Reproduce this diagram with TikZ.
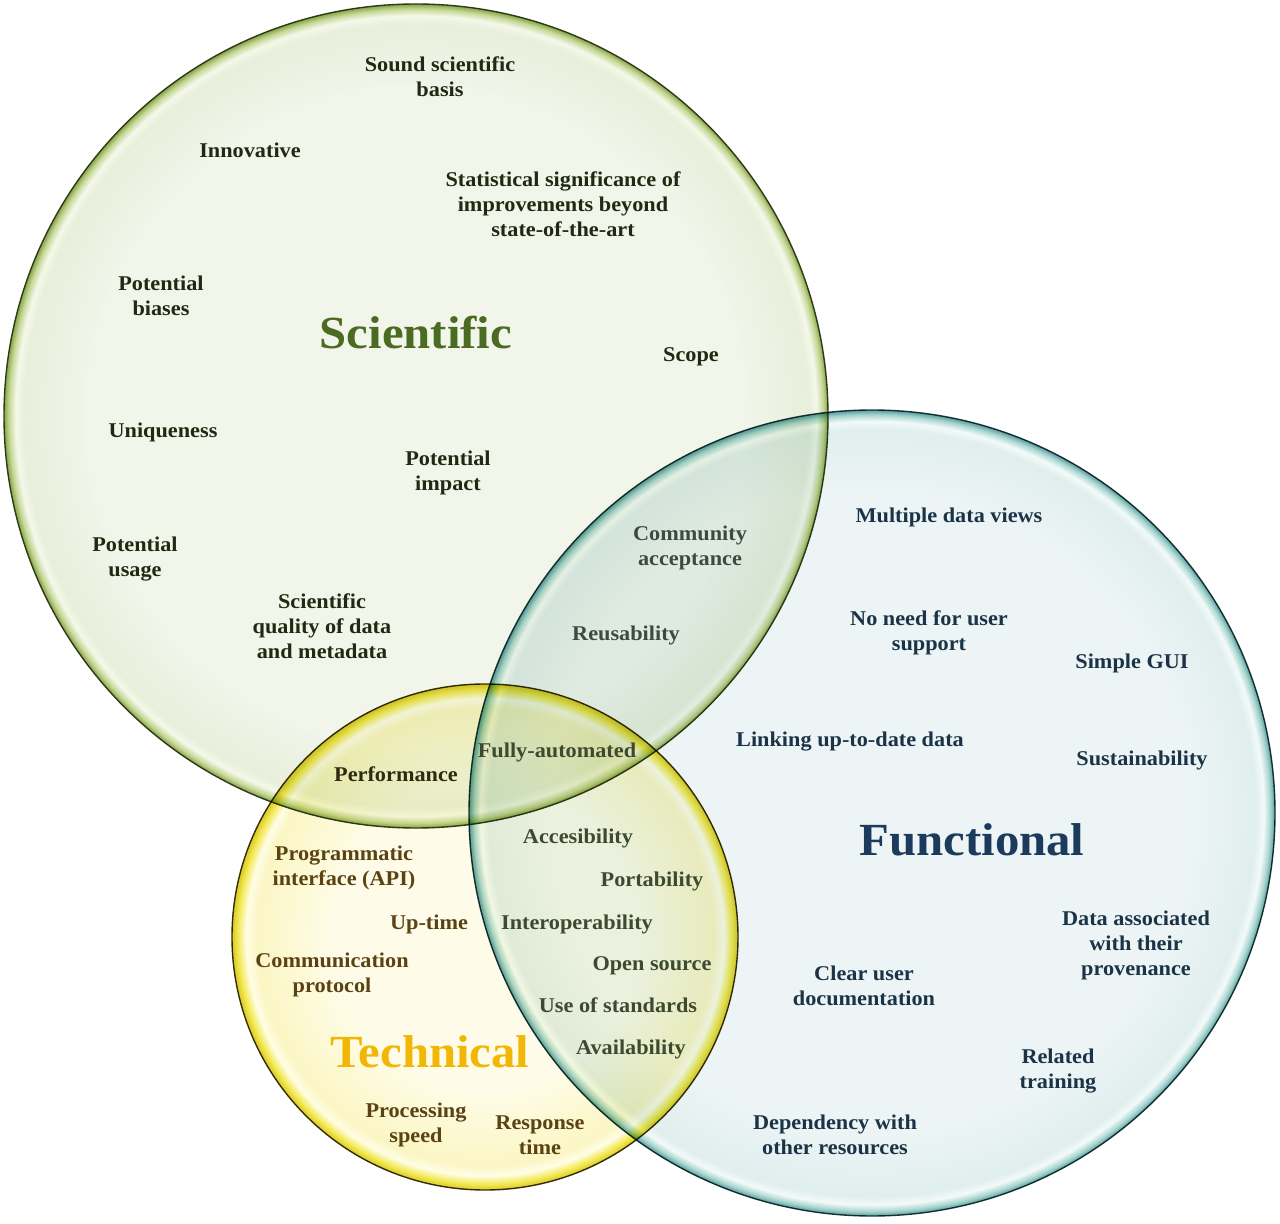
\documentclass[tikz,border=0pt]{standalone}
\usepackage{fontspec}
\setmainfont[FakeStretch=1.06]{Liberation Serif}
\definecolor{sciin}{HTML}{F1F5EA}
\definecolor{scimid}{HTML}{E8EFDA}
\definecolor{scihl}{HTML}{F4F8EA}
\definecolor{sciband}{HTML}{C6D896}
\definecolor{sciedge}{HTML}{8EA852}
\definecolor{sciborder}{HTML}{2E3A14}
\definecolor{funin}{HTML}{ECF4F5}
\definecolor{funmid}{HTML}{E0EEEE}
\definecolor{funhl}{HTML}{F3FAF9}
\definecolor{funband}{HTML}{A9D6D1}
\definecolor{funedge}{HTML}{62A2A2}
\definecolor{funborder}{HTML}{1D3B3F}
\definecolor{tecin}{HTML}{FEFCE8}
\definecolor{tecmid}{HTML}{FBF6C4}
\definecolor{techl}{HTML}{FFFDE6}
\definecolor{tecband}{HTML}{F3EA56}
\definecolor{tecedge}{HTML}{DCCC28}
\definecolor{tecborder}{HTML}{3A3210}
\definecolor{scitext}{HTML}{1E2A12}
\definecolor{scititle}{HTML}{4B6A22}
\definecolor{funtext}{HTML}{1B3346}
\definecolor{funtitle}{HTML}{1C3B5C}
\definecolor{tectext}{HTML}{5A4212}
\definecolor{tectitle}{HTML}{F2B705}
\definecolor{sftext}{HTML}{3C4A40}
\definecolor{sttext}{HTML}{2F2A10}
\definecolor{tftext}{HTML}{3D4A30}
\pgfdeclareradialshading{scishade}{\pgfpoint{0bp}{0bp}}{color(0bp)=(sciin); color(20bp)=(sciin); color(23.8bp)=(scimid); color(24.3bp)=(scihl); color(24.7bp)=(sciband); color(24.97bp)=(sciedge); color(50bp)=(sciedge)}
\pgfdeclareradialshading{funshade}{\pgfpoint{0bp}{0bp}}{color(0bp)=(funin); color(20bp)=(funin); color(23.8bp)=(funmid); color(24.3bp)=(funhl); color(24.7bp)=(funband); color(24.97bp)=(funedge); color(50bp)=(funedge)}
\pgfdeclareradialshading{tecshade}{\pgfpoint{0bp}{0bp}}{color(0bp)=(tecin); color(15bp)=(tecin); color(22.6bp)=(tecmid); color(23.6bp)=(techl); color(24.4bp)=(tecband); color(24.95bp)=(tecedge); color(50bp)=(tecedge)}
\tikzset{
  lbl/.style={font=\fontsize{10.5}{12.5}\selectfont\bfseries, align=center, inner sep=0pt},
  scil/.style={lbl, text=scitext},
  funl/.style={lbl, text=funtext},
  tecl/.style={lbl, text=tectext},
  sfl/.style={lbl, text=sftext},
  stl/.style={lbl, text=sttext},
  tfl/.style={lbl, text=tftext},
  ttl/.style={font=\fontsize{23}{27}\selectfont\bfseries, inner sep=0pt},
}
\begin{document}
\begin{tikzpicture}[x=0.5pt,y=-0.5pt]
\useasboundingbox (0,0) rectangle (1280,1224);
% circles
\path[shading=scishade] (416,416) circle[radius=412];
\draw[sciborder, line width=0.7pt] (416,416) circle[radius=412];
\begin{scope}[blend mode=multiply]
\path[shading=funshade] (872,813) circle[radius=403];
\draw[funborder, line width=0.7pt] (872,813) circle[radius=403];
\path[shading=tecshade] (485,937) circle[radius=253];
\draw[tecborder, line width=0.7pt] (485,937) circle[radius=253];
\end{scope}
% titles
\node[ttl, text=scititle] (tsci) at (416,333) {Scientific};
\node[ttl, text=funtitle] (tfun) at (972,840) {Functional};
\node[ttl, text=tectitle] (ttec) at (430,1052) {Technical};
% scientific
\node[scil] (s1) at (440,77) {Sound scientific\\basis};
\node[scil] (s2) at (250,150) {Innovative};
\node[scil] (s3) at (563,204) {Statistical significance of\\improvements beyond\\state-of-the-art};
\node[scil] (s4) at (161,296) {Potential\\biases};
\node[scil] (s5) at (691,357) {Scope};
\node[scil] (s6) at (163,432) {Uniqueness};
\node[scil] (s7) at (448,473) {Potential\\impact};
\node[scil] (s8) at (135,559) {Potential\\usage};
\node[scil] (s9) at (322,626) {Scientific\\quality of data\\and metadata};
% sci & fun
\node[sfl] (sf1) at (690,548) {Community\\acceptance};
\node[sfl] (sf2) at (626,635) {Reusability};
% sci & tec
\node[stl] (st1) at (396,774) {Performance};
\node[tfl] (all) at (557,752) {Fully-automated};
% functional
\node[funl] (f1) at (949,517) {Multiple data views};
\node[funl] (f2) at (929,633) {No need for user\\support};
\node[funl] (f3) at (1132,663) {Simple GUI};
\node[funl] (f4) at (850,742) {Linking up-to-date data};
\node[funl] (f5) at (1142,760) {Sustainability};
\node[funl] (f6) at (1136,945) {Data associated\\with their\\provenance};
\node[funl] (f7) at (864,986) {Clear user\\documentation};
\node[funl] (f8) at (1058,1071) {Related\\training};
\node[funl] (f9) at (835,1135) {Dependency with\\other resources};
% tec & fun
\node[tfl] (tf1) at (578,838) {Accesibility};
\node[tfl] (tf2) at (652,881) {Portability};
\node[tfl] (tf3) at (577,924) {Interoperability};
\node[tfl] (tf4) at (652,966) {Open source};
\node[tfl] (tf5) at (618,1005) {Use of standards};
\node[tfl] (tf6) at (631,1049) {Availability};
% technical
\node[tecl] (t1) at (344,868) {Programmatic\\interface (API)};
\node[tecl] (t2) at (429,924) {Up-time};
\node[tecl] (t3) at (332,975) {Communication\\protocol};
\node[tecl] (t4) at (416,1125) {Processing\\speed};
\node[tecl] (t5) at (540,1135) {Response\\time};
\end{tikzpicture}
\end{document}
